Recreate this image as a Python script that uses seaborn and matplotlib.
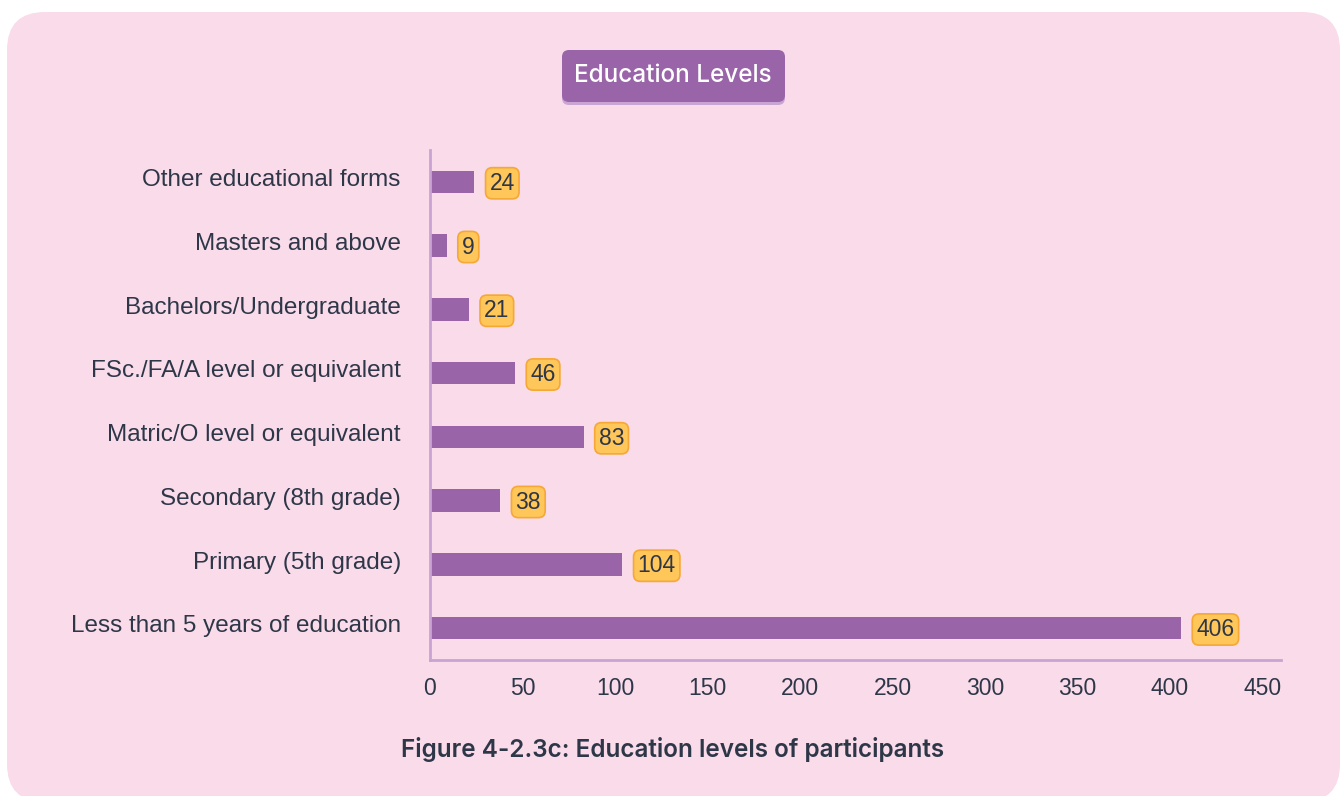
import matplotlib
matplotlib.use("Agg")
import matplotlib.pyplot as plt
import matplotlib.transforms as mtransforms
from matplotlib.patches import FancyBboxPatch
import seaborn as sns
import pandas as pd

# Survey data: education levels of participants
levels = [
    "Other educational forms",
    "Masters and above",
    "Bachelors/Undergraduate",
    "FSc./FA/A level or equivalent",
    "Matric/O level or equivalent",
    "Secondary (8th grade)",
    "Primary (5th grade)",
    "Less than 5 years of education",
]
counts = [24, 9, 21, 46, 83, 38, 104, 406]
x_ticks = [0, 50, 100, 150, 200, 250, 300, 350, 400, 450]

title_text = "Education Levels"
caption_text = "Figure 4-2.3c: Education levels of participants"

BAR = "#9a64a9"
CARD = "#f9dbea"
AXIS = "#c9a3d1"
INK = "#2e3748"
LABEL_FILL = "#ffc65a"
LABEL_EDGE = "#f5a835"

sns.set_theme(style="white")
plt.rcParams["font.family"] = ["Liberation Sans", "DejaVu Sans"]

W, H = 1344, 796
fig = plt.figure(figsize=(W / 100, H / 100), dpi=100)
fig.patch.set_facecolor("white")

# Background layer in pixel coordinates: rounded card and title badge
bg = fig.add_axes([0, 0, 1, 1], zorder=-1)
bg.set_xlim(0, W)
bg.set_ylim(H, 0)
bg.axis("off")
bg.add_patch(FancyBboxPatch((7 + 38, 12 + 38), 1333 - 76, 790 - 76,
                            boxstyle="round,pad=38", fc=CARD, ec="none"))
# title badge with a soft shadow below it
bg.add_patch(FancyBboxPatch((562 + 7, 53 + 7), 223 - 14, 52 - 14,
                            boxstyle="round,pad=7", fc="#c9a5d4", ec="none"))
bg.add_patch(FancyBboxPatch((562 + 7, 50 + 7), 223 - 14, 52 - 14,
                            boxstyle="round,pad=7", fc=BAR, ec="none"))
bg.text(673, 76, title_text, color="white", fontsize=17.5, ha="center",
        va="center", family=["Inter", "DejaVu Sans"], fontweight="medium")
bg.text(673, 750, caption_text, color=INK, fontsize=17.5, ha="center",
        va="center", family=["Inter", "DejaVu Sans"], fontweight="semibold")

# Main bar chart
ax = fig.add_axes([430 / W, (H - 660) / H, 851 / W, 510 / H])
ax.set_facecolor("none")
df = pd.DataFrame({"level": levels, "count": counts})
sns.barplot(data=df, y="level", x="count", orient="h", color=BAR,
            saturation=1, width=0.35, linewidth=0, ax=ax)
ax.set_xlim(0, 460)
ax.set_ylim(len(levels) - 0.5, -0.5)
ax.set_xticks(x_ticks)
ax.set_xlabel("")
ax.set_ylabel("")
for side in ("top", "right"):
    ax.spines[side].set_visible(False)
for side in ("left", "bottom"):
    ax.spines[side].set_visible(True)
    ax.spines[side].set_color(AXIS)
    ax.spines[side].set_linewidth(2)
ax.tick_params(axis="y", length=0, pad=21, labelsize=17.5, labelcolor=INK)
ax.tick_params(axis="x", length=0, pad=12, labelsize=16.5, labelcolor=INK)
# category names sit a touch above the bar centre line
lift = mtransforms.ScaledTranslation(0, 3 / 72, fig.dpi_scale_trans)
for lbl in ax.get_yticklabels():
    lbl.set_transform(lbl.get_transform() + lift)
ax.grid(False)

for i, v in enumerate(counts):
    ax.annotate(str(v), xy=(v, i), xytext=(11, -1), textcoords="offset points",
                ha="left", va="center", fontsize=16.5, color=INK,
                bbox=dict(boxstyle="round,pad=0.18,rounding_size=0.3",
                          fc=LABEL_FILL, ec=LABEL_EDGE, lw=1.2))

fig.savefig("out.png", dpi=100, facecolor=fig.get_facecolor())
